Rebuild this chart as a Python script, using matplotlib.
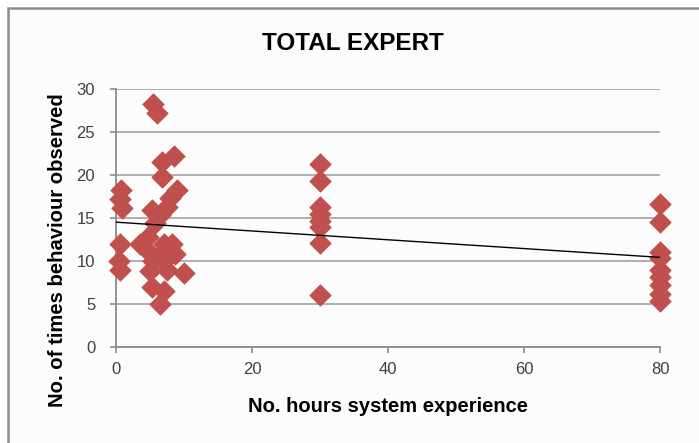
import numpy as np
import matplotlib.pyplot as plt
import matplotlib.patches as patches

plt.rcParams['font.family'] = ['Liberation Sans', 'DejaVu Sans']

# hours of system experience and behaviour counts per participant
hours = [0.8, 0.6, 0.9, 0.6, 0.5, 0.6,
         5.4, 6.0, 8.5, 6.8, 6.8, 9.0, 8.0, 7.5, 5.3, 6.5, 5.7,
         3.5, 4.7, 4.5, 7.0, 8.2, 8.7, 7.2, 5.4, 5.0, 10.0, 7.5, 6.0,
         5.3, 7.0, 6.5,
         30, 30, 30, 30, 30, 30, 30, 30,
         80, 80, 80, 80, 80, 80, 80, 80, 80]
counts = [18.3, 17.2, 16.2, 12.0, 10.0, 9.0,
          28.2, 27.2, 22.2, 21.5, 19.8, 18.3, 17.3, 16.3, 15.9, 15.3, 14.4,
          12.0, 12.8, 11.3, 12.0, 12.0, 10.8, 10.1, 10.0, 8.8, 8.6, 9.0, 10.5,
          7.0, 6.5, 5.0,
          21.3, 19.3, 16.3, 15.5, 14.7, 14.0, 12.1, 6.0,
          16.6, 14.5, 11.1, 10.3, 9.0, 8.1, 7.2, 6.2, 5.4]

x_ticks = [0, 20, 40, 60, 80]
y_ticks = [0, 5, 10, 15, 20, 25, 30]

fig = plt.figure(figsize=(6.99, 4.43), dpi=100)
fig.patch.set_facecolor('white')

# chart area frame
frame = patches.Rectangle((8 / 699, -0.1), 1.1, 1 - 8 / 443 + 0.1,
                          transform=fig.transFigure, facecolor='#fcfcfc',
                          edgecolor='#8c8c8c', linewidth=1.8, zorder=0)
fig.patches.append(frame)

ax = fig.add_axes([116 / 699, 1 - 347 / 443, 544 / 699, 258 / 443])
ax.set_zorder(2)
ax.set_facecolor('#fcfcfc')

ax.scatter(hours, counts, marker='D', s=120, color='#c0504d',
           edgecolors='#c0504d', linewidths=0.5, zorder=3, clip_on=False)

# linear trend line
slope, icpt = np.polyfit(hours, counts, 1)
xs = np.array([0, 80])
ax.plot(xs, icpt + slope * xs, color='black', linewidth=1.0, zorder=4)

ax.set_xlim(0, 80)
ax.set_ylim(0, 30)
ax.set_xticks(x_ticks)
ax.set_yticks(y_ticks)
ax.yaxis.grid(True, color='#a8a8a8', linewidth=1.3)
ax.set_axisbelow(True)

for side in ['top', 'right']:
    ax.spines[side].set_visible(False)
for side in ['left', 'bottom']:
    ax.spines[side].set_color('#8c8c8c')
    ax.spines[side].set_linewidth(1.3)

ax.tick_params(axis='both', colors='#8c8c8c', labelcolor='#404040',
               labelsize=12, length=4, width=1.2)
ax.tick_params(axis='y', pad=11)
ax.tick_params(axis='x', pad=7)

ax.set_xlabel('No. hours system experience', fontsize=14.5,
              fontweight='bold', labelpad=14)
ax.set_ylabel('No. of times behaviour observed', fontsize=14.6,
              fontweight='bold')
ax.yaxis.set_label_coords(-0.09, 0.376)

fig.text(353 / 699, 1 - 43 / 443, 'TOTAL EXPERT', ha='center', va='center',
         fontsize=17.5, fontweight='bold', zorder=3)

fig.savefig('out.png', dpi=100, facecolor=fig.get_facecolor())
